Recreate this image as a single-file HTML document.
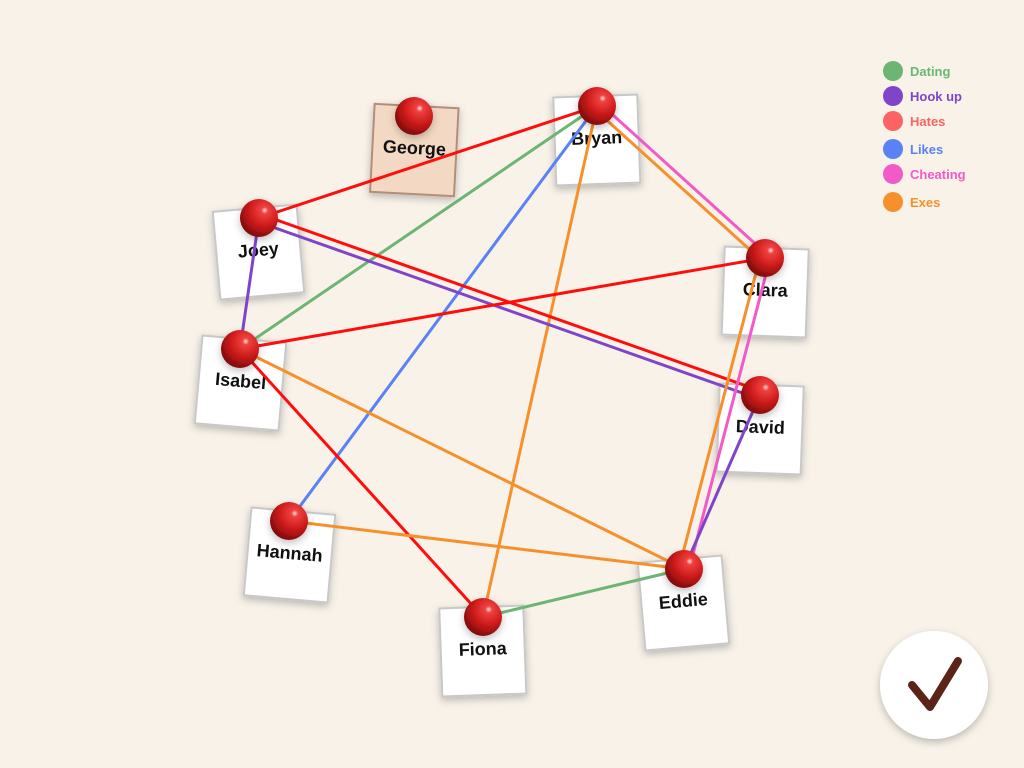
<!DOCTYPE html>
<html><head><meta charset="utf-8"><style>
html,body{margin:0;padding:0;background:#f8f2e9;width:1024px;height:768px;overflow:hidden;font-family:"Liberation Sans",sans-serif}
svg{position:absolute;left:0;top:0}
</style></head><body>
<svg width="1024" height="768">
<defs>
<radialGradient id="pin" cx="0.65" cy="0.3" r="0.75">
<stop offset="0" stop-color="#ffe0e0"/><stop offset="0.12" stop-color="#f04040"/><stop offset="0.55" stop-color="#cc1a1a"/><stop offset="1" stop-color="#7a0a0a"/>
</radialGradient>
<filter id="sh" x="-30%" y="-30%" width="160%" height="160%"><feDropShadow dx="0" dy="3" stdDeviation="4" flood-opacity="0.25"/></filter>
</defs>
<g id="cards"></g><g id="lines"></g><g id="pins"></g>
<g id="legend"></g>
<g>
<circle cx="934" cy="685" r="54" fill="#fff" filter="url(#sh)"/>
<path d="M912 685 L930 707 L958 661" fill="none" stroke="#5a2518" stroke-width="8" stroke-linecap="round" stroke-linejoin="round"/>
</g>
</svg>
<script>
const NS='http://www.w3.org/2000/svg';
const names=['George','Bryan','Joey','Clara','Isabel','David','Hannah','Eddie','Fiona'];
const pinX=[414,597,259,765,240,760,289,684,483];
const pinY=[116,106,218,258,349,395,521,569,617];
const cardRot=[3,-2,-5,2,5,2,5,-5,-2];
const types=['Dating','Hook up','Hates','Likes','Cheating','Exes'];
const typeColors=['#6db573','#8044c8','#fc6364','#5a82f5','#f25ac8','#f5902c'];
const lineColors=['#6db573','#8044c8','#ff0d0d','#5a82f5','#f25ac8','#f5902c'];
const edgeFrom=['Bryan','Bryan','Bryan','Bryan','Bryan','Bryan','Joey','Joey','Joey','Isabel','Isabel','Isabel','Hannah','Clara','Clara','David','Fiona'];
const edgeTo=['Joey','Isabel','Hannah','Fiona','Clara','Clara','David','David','Isabel','Clara','Fiona','Eddie','Eddie','Eddie','Eddie','Eddie','Eddie'];
const edgeType=['Hates','Dating','Likes','Exes','Exes','Cheating','Hates','Hook up','Hook up','Hates','Hates','Exes','Exes','Exes','Cheating','Hook up','Dating'];
const edgeOff=[0,0,0,0,4,-4,-4,4,0,0,0,0,0,5,-5,0,0];
function el(t,a,p){const e=document.createElementNS(NS,t);for(const k in a)e.setAttribute(k,a[k]);p.appendChild(e);return e;}
const cards=document.getElementById('cards'),lines=document.getElementById('lines'),pins=document.getElementById('pins');
names.forEach((n,i)=>{
  const x=pinX[i],y=pinY[i];
  const g=el('g',{transform:`rotate(${cardRot[i]} ${x} ${y+40})`},cards);
  
  
  const george=n==='George';
  el('rect',{x:x-42,y:y-10,width:84,height:88,fill:george?'#f3d9c3':'#fff',stroke:george?'#b38d77':'#c8c8c8','stroke-width':2,filter:'url(#sh)'},g);
  const t=el('text',{x:x,y:y+38,'text-anchor':'middle','font-size':18,'font-weight':'bold',fill:'#111'},g);
  t.textContent=n;
  
  
  const p=el('circle',{cx:x,cy:y,r:19,fill:'url(#pin)',filter:'url(#sh)'},pins);
  
  
});
edgeFrom.forEach((f,k)=>{
  const a=names.indexOf(f),b=names.indexOf(edgeTo[k]),ti=types.indexOf(edgeType[k]);
  let x1=pinX[a],y1=pinY[a],x2=pinX[b],y2=pinY[b];
  const dx=x2-x1,dy=y2-y1,L=Math.hypot(dx,dy),o=edgeOff[k];
  const nx=-dy/L*o,ny=dx/L*o;
  const l=el('line',{x1:x1+nx,y1:y1+ny,x2:x2+nx,y2:y2+ny,stroke:lineColors[ti],'stroke-width':3},lines);
  
  
});
const leg=document.getElementById('legend');
const legY=[71,96,121,149,174,202];
types.forEach((t,i)=>{
  const g=el('g',{},leg);
  
  
  el('circle',{cx:893,cy:legY[i],r:10,fill:typeColors[i]},g);
  const tx=el('text',{x:910,y:legY[i]+5,'font-size':13,'font-weight':'bold',fill:typeColors[i]},g);
  tx.textContent=t;
});
</script>
</body></html>
